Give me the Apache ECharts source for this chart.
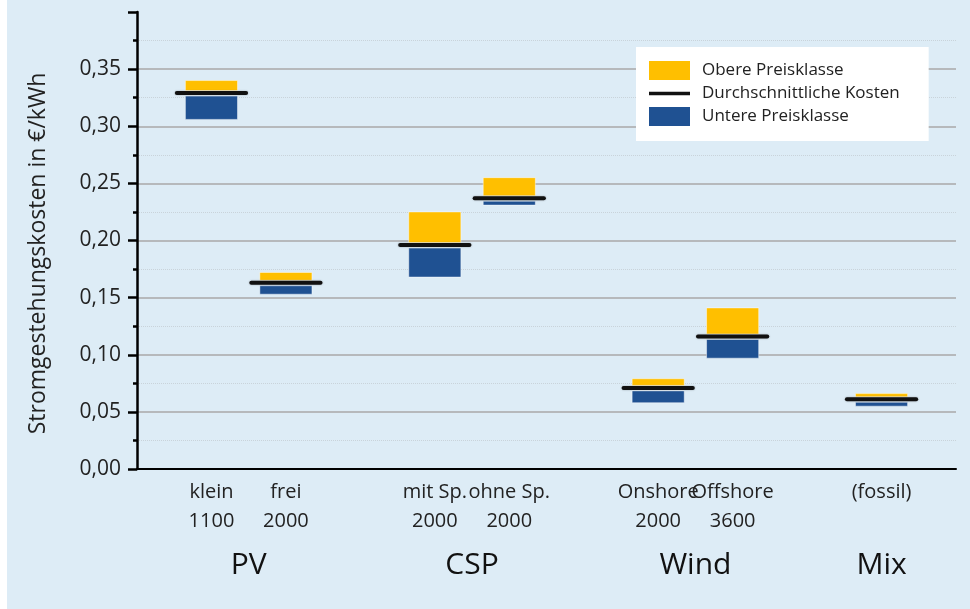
<!DOCTYPE html>
<html>
<head>
<meta charset="utf-8">
<script src="https://cdn.jsdelivr.net/npm/echarts@6/dist/echarts.min.js"></script>
<style>
  body { margin: 0; background: #fff; }
  #main { width: 970px; height: 609px; background: linear-gradient(to right, #fff 7px, #ddecf6 7px); }
</style>
</head>
<body>
<div id="main"></div>
<script>
// x slots: empty strings are the gaps between the groups
var categories = ['', 'klein\n1100', 'frei\n2000', '', 'mit Sp.\n2000', 'ohne Sp.\n2000', '', 'Onshore\n2000', 'Offshore\n3600', '', '(fossil)', '']
var barSlots = [1, 2, 4, 5, 7, 8, 10]
var lowCost = [0.306, 0.153, 0.168, 0.231, 0.058, 0.097, 0.055]
var avgCost = [0.329, 0.163, 0.196, 0.237, 0.071, 0.116, 0.061]
var highCost = [0.340, 0.172, 0.225, 0.255, 0.079, 0.141, 0.066]
var groups = ['PV', 'CSP', 'Wind', 'Mix']
var groupPos = [1.5, 4.5, 7.5, 10]
var yTicks = [0, 0.05, 0.10, 0.15, 0.20, 0.25, 0.30, 0.35]

var rows = barSlots.map(function (s, i) { return [s, lowCost[i], avgCost[i], highCost[i]] })

var FONT = 'Open Sans'

function upperBox(params, api) {
  var x = api.value(0)
  var pTop = api.coord([x, api.value(3)])
  var pAvg = api.coord([x, api.value(2)])
  var w = api.size([1, 0])[0] * 0.7
  return {
    type: 'rect',
    shape: { x: pTop[0] - w / 2, y: pTop[1], width: w, height: Math.max(pAvg[1] - 2.5 - pTop[1], 1) },
    style: { fill: '#ffbf00', stroke: 'rgba(255,255,255,0.45)', lineWidth: 1 }
  }
}
function lowerBox(params, api) {
  var x = api.value(0)
  var pLow = api.coord([x, api.value(1)])
  var pAvg = api.coord([x, api.value(2)])
  var w = api.size([1, 0])[0] * 0.7
  return {
    type: 'rect',
    shape: { x: pAvg[0] - w / 2, y: pAvg[1] + 3, width: w, height: Math.max(pLow[1] - pAvg[1] - 3, 1) },
    style: { fill: '#1f5192', stroke: 'rgba(255,255,255,0.45)', lineWidth: 1 }
  }
}
function avgLine(params, api) {
  var x = api.value(0)
  var p = api.coord([x, api.value(2)])
  var w = api.size([1, 0])[0] * 0.93
  return {
    type: 'line',
    shape: { x1: p[0] - w / 2, y1: p[1], x2: p[0] + w / 2, y2: p[1] },
    style: { stroke: '#111', lineWidth: 4, lineCap: 'round', shadowColor: 'rgba(0,0,0,0.3)', shadowBlur: 2 }
  }
}

var myChart = echarts.init(document.getElementById('main'))
myChart.setOption({
  animation: false,
  textStyle: { fontFamily: FONT },
  grid: { left: 137, right: 14, top: 12, bottom: 140, containLabel: false },
  legend: {
    orient: 'vertical',
    left: 636, top: 47,
    backgroundColor: '#fff',
    padding: [14, 29, 15, 13],
    itemGap: 5,
    itemWidth: 41,
    itemHeight: 19,
    textStyle: { fontSize: 17, color: '#222', fontFamily: FONT, padding: [0, 0, 0, 7] },
    data: [
      { name: 'Obere Preisklasse', icon: 'rect' },
      { name: 'Durchschnittliche Kosten', icon: 'path://M0,0h44v4h-44z' },
      { name: 'Untere Preisklasse', icon: 'rect' }
    ]
  },
  xAxis: [{
    type: 'category',
    data: categories,
    boundaryGap: false,
    axisLine: { lineStyle: { color: '#000', width: 2 } },
    axisTick: { show: false },
    axisLabel: { interval: 0, fontSize: 20, lineHeight: 29, color: '#222', margin: 9, fontFamily: FONT },
    splitLine: { show: false }
  }, {
    type: 'value',
    min: 0, max: 11,
    position: 'bottom',
    axisLine: { show: false },
    axisTick: { show: false },
    splitLine: { show: false },
    axisLabel: {
      customValues: groupPos,
      margin: 81,
      fontSize: 30,
      color: '#111',
      fontFamily: FONT,
      formatter: function (v) { return groups[groupPos.indexOf(v)] }
    }
  }],
  yAxis: {
    type: 'value',
    min: 0, max: 0.4, interval: 0.05,
    name: 'Stromgestehungskosten in €/kWh',
    nameLocation: 'middle',
    nameGap: 87,
    nameTextStyle: { fontSize: 23, color: '#222', fontFamily: FONT, padding: [0, 26, 0, 0] },
    axisLine: { show: true, lineStyle: { color: '#000', width: 2.5 } },
    axisTick: { show: true, length: 9, lineStyle: { color: '#000', width: 2.5 } },
    minorTick: { show: true, splitNumber: 2, length: 4, lineStyle: { color: '#000', width: 2.5 } },
    axisLabel: {
      fontSize: 21, color: '#222', margin: 16, fontFamily: FONT,
      customValues: yTicks,
      formatter: function (v) { return v.toFixed(2).replace('.', ',') }
    },
    splitLine: { show: true, showMinLine: false, showMaxLine: false, lineStyle: { color: '#a8a8a8', width: 1.5 } },
    minorSplitLine: { show: true, lineStyle: { color: '#c9d3da', width: 1, type: 'dotted' } }
  },
  series: [{
    name: 'Obere Preisklasse',
    type: 'custom',
    itemStyle: { color: '#ffbf00' },
    renderItem: upperBox,
    encode: { x: 0, y: [1, 2, 3] },
    data: rows
  }, {
    name: 'Untere Preisklasse',
    type: 'custom',
    itemStyle: { color: '#1f5192' },
    renderItem: lowerBox,
    encode: { x: 0, y: [1, 2, 3] },
    data: rows
  }, {
    name: 'Durchschnittliche Kosten',
    type: 'custom',
    itemStyle: { color: '#111' },
    renderItem: avgLine,
    encode: { x: 0, y: [1, 2, 3] },
    data: rows,
    z: 3
  }]
})
</script>
</body>
</html>
